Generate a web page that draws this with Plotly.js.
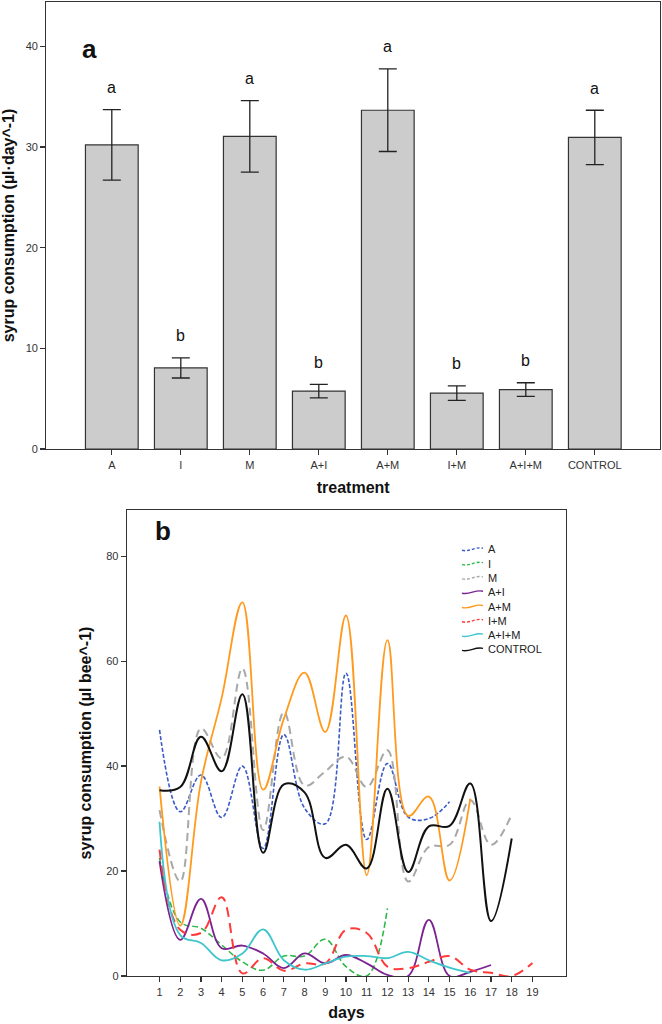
<!DOCTYPE html>
<html>
<head>
<meta charset="utf-8">
<script src="https://cdn.plot.ly/plotly-3.0.1.min.js"></script>
<style>
  html, body { margin: 0; padding: 0; background: #fff; }
  #chart { width: 662px; height: 1024px; }
</style>
</head>
<body>
<div id="chart"></div>
<script>
/*
 Panel a: mean syrup consumption per treatment
*/

var treatments = ["A", "I", "M", "A+I", "A+M", "I+M", "A+I+M", "CONTROL"];
var meanConsumption = [30.2, 8.05, 31.05, 5.75, 33.65, 5.55, 5.9, 30.95];
var errConsumption = [3.5, 1.0, 3.55, 0.67, 4.1, 0.73, 0.68, 2.7];
var groupLetters = ["a", "b", "a", "b", "a", "b", "b", "a"];

/*
 Panel b: consumption per day
*/

var days = [1, 2, 3, 4, 5, 6, 7, 8, 9, 10, 11, 12, 13, 14, 15, 16, 17, 18, 19];
var dayA = [46.9, 31.3, 38.3, 30.2, 40.0, 24.3, 46.0, 32.0, 29.0, 57.7, 26.0, 40.5, 30.3, 30.0, 33.2];
var dayI = [22.5, 10.3, 9.1, 5.9, 2.7, 1.1, 3.8, 3.8, 7.0, 1.8, 0, 12.9];
var dayM = [31.6, 18.0, 47.2, 41.5, 58.6, 27.8, 50.3, 36.3, 39.0, 41.8, 36.0, 43.0, 18.0, 24.6, 25.0, 33.5, 25.0, 30.8];
var dayAI = [21.9, 6.9, 14.7, 5.3, 5.8, 4.3, 1.5, 4.3, 2.4, 4.0, 2.4, 0.2, 0, 10.7, 0, 0.8, 2.1];
var dayAM = [36.1, 9.6, 37.0, 53.0, 71.2, 35.5, 49.0, 57.8, 46.5, 68.7, 19.2, 64.0, 30.5, 34.2, 18.2, 33.8];
var dayIM = [24.1, 8.8, 8.2, 15.0, 0.5, 3.4, 1.0, 2.4, 2.4, 8.8, 8.2, 1.8, 1.5, 2.7, 3.8, 1.2, 0.6, 0, 2.5];
var dayAIM = [29.4, 7.8, 6.3, 3.0, 4.3, 8.9, 3.0, 1.2, 2.4, 3.7, 3.8, 3.4, 4.6, 3.0, 1.6, 0.6];
var dayControl = [35.4, 36.0, 45.6, 39.0, 53.7, 23.5, 36.5, 35.0, 22.5, 25.0, 20.5, 35.7, 19.8, 28.5, 28.6, 36.7, 10.5, 26.2];

var seriesNames = ["A", "I", "M", "A+I", "A+M", "I+M", "A+I+M", "CONTROL"];
var seriesValues = [dayA, dayI, dayM, dayAI, dayAM, dayIM, dayAIM, dayControl];

// styles, kept apart from the values
var seriesColors = ["#3a5bc8", "#2fb84a", "#a8a8a8", "#7b2390", "#ff9a1e", "#ff3a3a", "#3fc6cc", "#111111"];
var seriesDashes = ["4px,2px", "6px,3px", "8px,5px", "solid", "solid", "10px,6px", "solid", "solid"];
var seriesWidths = [1.6, 1.6, 2, 1.8, 1.8, 2, 1.8, 2];

var W = 662, H = 1024;
var FONT = "Liberation Sans, Arial, sans-serif";

function px(x) { return x / W; }
function py(y) { return 1 - y / H; }

/*
 Traces
*/

var data = [];

data.push({
  type: "bar",
  x: treatments,
  y: meanConsumption,
  xaxis: "x",
  yaxis: "y",
  marker: { color: "#cccccc", line: { color: "#333333", width: 1.2 } },
  error_y: { type: "data", array: errConsumption, visible: true, color: "#222222", thickness: 1.3, width: 9 },
  showlegend: false
});

for (var i = 0; i < seriesNames.length; i++) {
  data.push({
    type: "scatter",
    mode: "lines",
    name: seriesNames[i],
    x: days.slice(0, seriesValues[i].length),
    y: seriesValues[i],
    xaxis: "x2",
    yaxis: "y2",
    line: { color: seriesColors[i], dash: seriesDashes[i], width: seriesWidths[i], shape: "spline", smoothing: 1.1 },
    showlegend: false
  });
}

/*
 Letters above bars, legend of panel b
*/

var annotations = [];
var shapes = [];

for (var i = 0; i < treatments.length; i++) {
  annotations.push({
    xref: "x", yref: "y",
    x: treatments[i], y: meanConsumption[i] + errConsumption[i],
    text: groupLetters[i], showarrow: false,
    yanchor: "middle", yshift: 22,
    font: { family: FONT, size: 16, color: "#111" }
  });
}

annotations.push({ xref: "paper", yref: "paper", x: px(80), y: py(32), text: "<b>a</b>", showarrow: false,
  font: { family: FONT, size: 26, color: "#111" } });
annotations.push({ xref: "paper", yref: "paper", x: px(153), y: py(531), text: "<b>b</b>", showarrow: false,
  font: { family: FONT, size: 26, color: "#111" } });

for (var i = 0; i < seriesNames.length; i++) {
  var ly = 549.3 + 14.3 * i;
  var x0 = 462, x1 = 483;
  shapes.push({
    type: "path", xref: "paper", yref: "paper",
    path: "M " + px(x0) + "," + py(ly + 1) +
          " C " + px(x0 + 8) + "," + py(ly + 3) + " " + px(x1 - 8) + "," + py(ly - 3) + " " + px(x1) + "," + py(ly - 1),
    line: { color: seriesColors[i], width: 1.4, dash: seriesDashes[i] === "solid" ? "solid" : "3px,2px" }
  });
  annotations.push({
    xref: "paper", yref: "paper", x: px(486), y: py(ly),
    xanchor: "left", yanchor: "middle",
    text: seriesNames[i], showarrow: false,
    font: { family: FONT, size: 11, color: "#222" }
  });
}

/*
 Layout
*/

var axisCommon = {
  showgrid: false, zeroline: false,
  showline: true, linecolor: "#333", linewidth: 1.3, mirror: true,
  ticks: "outside", ticklen: 5, tickwidth: 1.2, tickcolor: "#333",
  tickfont: { family: FONT, size: 11, color: "#333" }
};

function axis(extra) {
  return Object.assign({}, axisCommon, extra);
}

var layout = {
  width: W,
  height: H,
  margin: { l: 0, r: 0, t: 0, b: 0 },
  paper_bgcolor: "#ffffff",
  plot_bgcolor: "#ffffff",
  font: { family: FONT, color: "#111" },
  bargap: 0.236,
  showlegend: false,
  xaxis: axis({
    domain: [px(46.4), px(660)],
    anchor: "y",
    type: "category",
    range: [-0.948, 7.945],
    title: { text: "<b>treatment</b>", font: { family: FONT, size: 16, color: "#111" }, standoff: 12 }
  }),
  yaxis: axis({
    domain: [py(449), py(2)],
    anchor: "x",
    range: [0, 44.4],
    tickvals: [0, 10, 20, 30, 40],
    title: { text: "<b>syrup consumption (µl·day^-1)</b>", font: { family: FONT, size: 16, color: "#111" }, standoff: 9 }
  }),
  xaxis2: axis({
    domain: [px(127), px(566)],
    anchor: "y2",
    range: [-0.57, 20.62],
    tickvals: days,
    title: { text: "<b>days</b>", font: { family: FONT, size: 16, color: "#111" }, standoff: 10 }
  }),
  yaxis2: axis({
    domain: [py(976), py(510)],
    anchor: "x2",
    range: [0, 88.8],
    tickvals: [0, 20, 40, 60, 80],
    title: { text: "<b>syrup consumption (µl bee^-1)</b>", font: { family: FONT, size: 16, color: "#111" }, standoff: 10 }
  }),
  annotations: annotations,
  shapes: shapes
};

var config = {
  displayModeBar: false,
  staticPlot: true
};

Plotly.newPlot("chart", data, layout, config);
</script>
</body>
</html>
